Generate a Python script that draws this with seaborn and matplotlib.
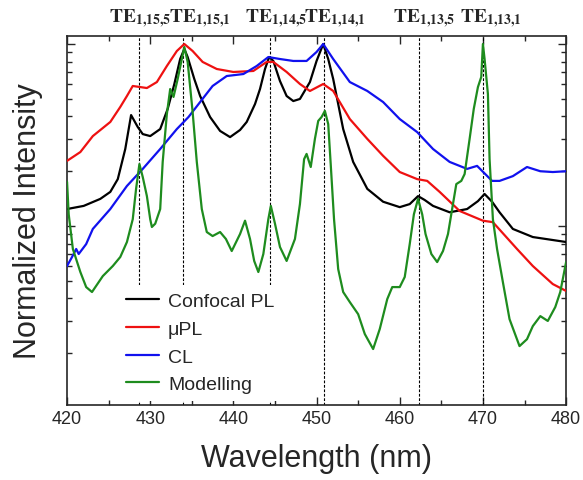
import numpy as np
import pandas as pd
import matplotlib
matplotlib.use('Agg')
import matplotlib.pyplot as plt
import seaborn as sns
from matplotlib.ticker import MultipleLocator, LogLocator, NullFormatter

# Data (wavelength in nm, normalized intensity)
wl_conf = [420.0, 422.0, 424.0, 425.2, 426.1, 427.0, 427.7, 428.5, 429.1, 430.0,
           431.2, 432.1, 432.9, 433.6, 434.1, 434.5, 435.3, 436.0, 437.2, 438.4,
           439.6, 440.8, 441.6, 442.6, 443.2, 443.8, 444.3, 444.8, 445.6, 446.4,
           447.2, 448.0, 449.2, 450.0, 450.8, 451.4, 452.0, 452.6, 453.2, 454.4,
           456.1, 458.0, 460.0, 461.2, 462.2, 463.0, 464.0, 466.0, 468.1, 469.4,
           470.2, 471.1, 472.0, 473.6, 476.0, 480.0]
conf_pl = [0.124, 0.129, 0.141, 0.154, 0.181, 0.265, 0.407, 0.350, 0.320, 0.312,
           0.341, 0.440, 0.603, 0.827, 0.939, 0.848, 0.642, 0.518, 0.397, 0.333,
           0.308, 0.337, 0.373, 0.468, 0.566, 0.729, 0.848, 0.807, 0.626, 0.518,
           0.486, 0.499, 0.618, 0.807, 1.000, 0.827, 0.642, 0.468, 0.341, 0.225,
           0.160, 0.136, 0.127, 0.132, 0.146, 0.139, 0.129, 0.119, 0.124, 0.137,
           0.150, 0.136, 0.119, 0.0964, 0.0870, 0.0817]

wl_mupl = [420.0, 421.6, 423.1, 425.2, 426.4, 427.2, 427.9, 428.8, 429.6, 430.8,
           432.0, 433.2, 434.1, 435.1, 436.3, 438.0, 440.0, 442.4, 444.0, 444.8,
           446.4, 448.0, 449.2, 450.8, 452.0, 454.0, 456.1, 458.0, 460.0, 462.1,
           463.3, 464.8, 467.2, 470.0, 471.2, 474.1, 476.0, 478.4, 480.0]
mu_pl = [0.228, 0.255, 0.312, 0.373, 0.451, 0.518, 0.588, 0.580, 0.573, 0.618,
         0.757, 0.915, 1.000, 0.915, 0.797, 0.729, 0.702, 0.711, 0.797, 0.797,
         0.702, 0.603, 0.552, 0.603, 0.552, 0.387, 0.301, 0.243, 0.198, 0.181,
         0.177, 0.154, 0.121, 0.107, 0.105, 0.0748, 0.0603, 0.0480, 0.0440]

wl_cl = [420.0, 420.6, 421.1, 421.4, 422.3, 423.1, 425.2, 427.2, 429.1, 431.2,
         433.2, 434.6, 436.0, 437.5, 439.2, 441.2, 442.8, 444.2, 445.6, 447.2,
         448.8, 450.0, 450.8, 452.0, 454.0, 456.1, 458.0, 460.0, 462.1, 464.0,
         466.0, 468.1, 469.3, 471.1, 472.0, 473.6, 475.3, 476.9, 478.4, 480.0]
cl = [0.0603, 0.0676, 0.0748, 0.0702, 0.0796, 0.0964, 0.124, 0.166, 0.206, 0.265,
      0.341, 0.397, 0.480, 0.588, 0.667, 0.684, 0.757, 0.848, 0.827, 0.807,
      0.807, 0.904, 1.000, 0.827, 0.618, 0.552, 0.480, 0.387, 0.328, 0.265,
      0.225, 0.206, 0.214, 0.177, 0.177, 0.188, 0.211, 0.200, 0.198, 0.200]

wl_model = [420.0, 420.2, 420.7, 421.6, 422.3, 423.0, 424.3, 425.5, 426.4, 427.2,
            427.9, 428.3, 428.7, 429.1, 429.6, 430.0, 430.2, 430.6, 431.2, 431.5,
            432.0, 432.4, 432.8, 433.3, 434.1, 434.5, 435.1, 435.6, 436.2, 436.8,
            437.5, 438.4, 439.1, 439.8, 440.8, 441.4, 442.0, 442.5, 443.0, 443.6,
            444.2, 444.5, 445.0, 445.6, 446.4, 447.4, 448.0, 448.5, 448.8, 449.3,
            449.8, 450.2, 450.6, 451.0, 451.4, 451.7, 452.1, 452.6, 453.2, 454.0,
            455.0, 455.8, 456.8, 457.6, 458.5, 459.1, 460.0, 460.6, 461.2, 461.7,
            462.2, 462.7, 463.1, 463.8, 464.5, 465.2, 465.8, 466.3, 466.8, 467.4,
            467.8, 468.4, 468.9, 469.4, 469.8, 470.0, 470.2, 470.6, 470.8, 471.2,
            471.7, 472.4, 473.2, 474.4, 475.3, 476.0, 476.9, 477.8, 478.7, 479.3,
            480.0]
modelling = [0.175, 0.116, 0.0748, 0.0559, 0.0462, 0.0434, 0.0531, 0.0603, 0.0676, 0.0817,
             0.109, 0.160, 0.219, 0.186, 0.146, 0.109, 0.0988, 0.103, 0.124, 0.225,
             0.412, 0.566, 0.512, 0.642, 0.963, 0.797, 0.423, 0.225, 0.124, 0.0927,
             0.0881, 0.0927, 0.0849, 0.0729, 0.0904, 0.107, 0.0849, 0.0643, 0.0559, 0.0702,
             0.109, 0.129, 0.103, 0.0767, 0.0643, 0.0849, 0.132, 0.233, 0.249, 0.211,
             0.301, 0.378, 0.397, 0.429, 0.363, 0.219, 0.109, 0.0580, 0.0434, 0.0382,
             0.0328, 0.0255, 0.0211, 0.0272, 0.0397, 0.0462, 0.0462, 0.0525, 0.0796, 0.116,
             0.141, 0.116, 0.0904, 0.0702, 0.0634, 0.0729, 0.0904, 0.124, 0.170, 0.177,
             0.193, 0.301, 0.440, 0.580, 0.659, 1.000, 0.827, 0.531, 0.233, 0.109,
             0.0748, 0.0492, 0.0308, 0.0219, 0.0239, 0.0282, 0.0320, 0.0301, 0.0359, 0.0434,
             0.0634]

# Mode positions (nm) and their labels
mode_wl = [428.6, 434.0, 444.4, 450.9, 462.3, 470.0]
mode_labels = [r'$\mathbf{TE_{1{,}15{,}5}}$', r'$\mathbf{TE_{1{,}15{,}1}}$',
               r'$\mathbf{TE_{1{,}14{,}5}}$', r'$\mathbf{TE_{1{,}14{,}1}}$',
               r'$\mathbf{TE_{1{,}13{,}5}}$', r'$\mathbf{TE_{1{,}13{,}1}}$']
label_shift = [0.2, 1.9, 0.7, 1.3, 0.6, 1.0]

sns.set_style('ticks')
plt.rcParams['font.family'] = ['Liberation Sans', 'DejaVu Sans']
plt.rcParams['mathtext.fontset'] = 'stix'

fig = plt.figure(figsize=(5.83, 4.81), dpi=100)
ax = fig.add_axes([0.115, 0.156, 0.856, 0.767])

series = [('Confocal PL', wl_conf, conf_pl, 'black'),
          ('\u03bcPL', wl_mupl, mu_pl, '#ee1111'),
          ('CL', wl_cl, cl, '#1111ee'),
          ('Modelling', wl_model, modelling, '#1e8c1e')]

for name, x, y, c in series:
    df = pd.DataFrame({'wl': x, 'I': y})
    sns.lineplot(data=df, x='wl', y='I', color=c, lw=1.6, label=name, ax=ax,
                 sort=False, zorder=3)

for w in mode_wl:
    ax.axvline(w, color='black', ls=(0, (2.5, 1.5)), lw=0.8, zorder=2)

ax.set_yscale('log')
ax.set_xlim(420, 480)
ax.set_ylim(0.0104, 1.106)

ax.xaxis.set_major_locator(MultipleLocator(10))
ax.xaxis.set_minor_locator(MultipleLocator(5))
ax.yaxis.set_major_locator(LogLocator(base=10))
ax.yaxis.set_minor_locator(LogLocator(base=10, subs=np.arange(2, 10)))
ax.yaxis.set_major_formatter(NullFormatter())
ax.yaxis.set_minor_formatter(NullFormatter())
ax.tick_params(which='both', direction='in', top=True, right=True, width=1.0)
ax.tick_params(which='major', length=6, labelsize=13)
ax.tick_params(which='minor', length=3.5)
for s in ax.spines.values():
    s.set_linewidth(1.2)

ax.set_xlabel('Wavelength (nm)', fontsize=22, labelpad=12)
ax.set_ylabel('Normalized Intensity', fontsize=22, labelpad=14)

for w, lab, dx in zip(mode_wl, mode_labels, label_shift):
    ax.text(w + dx, 1.21, lab, ha='center', va='bottom', fontsize=14,
            transform=ax.transData, clip_on=False)

leg = ax.legend(loc='lower left', bbox_to_anchor=(0.095, 0.0), fontsize=14,
                frameon=True, facecolor='white', edgecolor='none', framealpha=1,
                handlelength=1.7, handletextpad=0.45, labelspacing=0.52,
                borderpad=0.4, borderaxespad=0.2)
leg.set_zorder(5)

fig.savefig('out.png', dpi=100)
